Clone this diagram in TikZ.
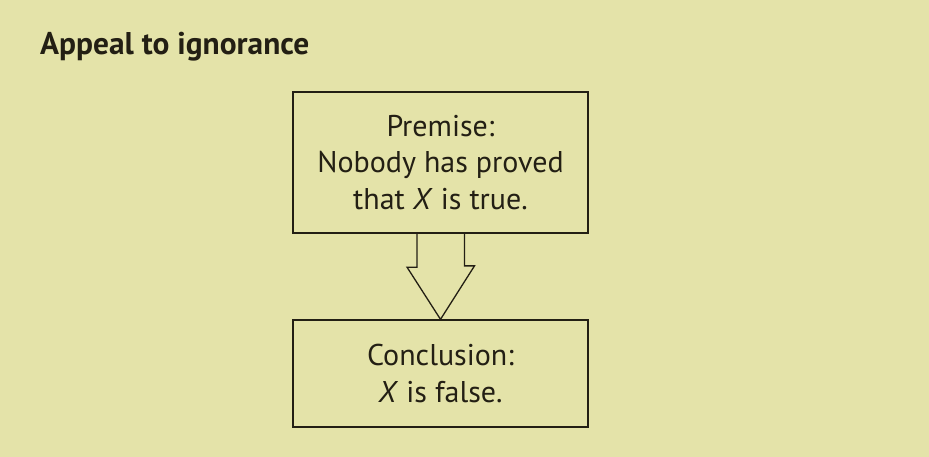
\documentclass[tikz,border=0pt]{standalone}
\usepackage{fontspec}
\setmainfont{PT Sans}
\definecolor{bgkhaki}{HTML}{E4E3A9}
\definecolor{inkdark}{HTML}{231F14}
\begin{document}
\begin{tikzpicture}[x=1pt,y=-1pt,
        stepbox/.style={draw=inkdark, line width=1.3pt, align=center, text=inkdark,
            minimum width=295pt, inner sep=0pt, font=\fontsize{30}{36.5}\selectfont},
        fatarrow/.style={draw=inkdark, line width=1.3pt, line join=miter}]
            \fill[bgkhaki] (0,0) rectangle (929,457);
            \useasboundingbox (0,0) rectangle (929,457);
            \node[anchor=base west, inner sep=0pt, text=inkdark, font=\fontsize{31.4}{36}\selectfont\bfseries] (title) at (40,55) {Appeal to ignorance};
            \node[stepbox, minimum height=141pt] (prem) at (440.5,162.5) {Premise:\\Nobody has proved\\that \emph{X} is true.};
            \node[stepbox, minimum height=107pt] (concl) at (440.5,373.5) {Conclusion:\\\emph{X} is false.};
            \draw[fatarrow] ([xshift=-23.5pt]prem.south) -- ++(0,33.5) -- ++(-10,0) -- (concl.north) -- ++(34,-53.5) -- ++(-10,0) -- ++(0,-33.5);
        \end{tikzpicture}
\end{document}
